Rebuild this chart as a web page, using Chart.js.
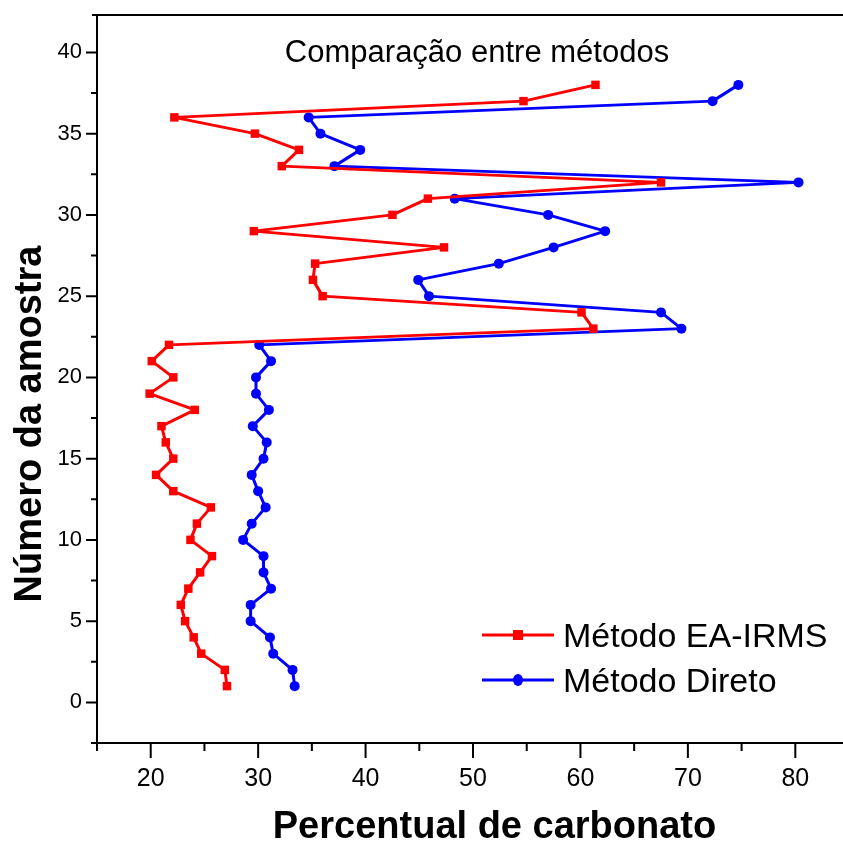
<!DOCTYPE html>
<html>
<head>
<meta charset="utf-8">
<script src="https://cdn.jsdelivr.net/npm/chart.js@4.4.1/dist/chart.umd.min.js"></script>
<style>
  html, body { margin: 0; padding: 0; background: #fff; overflow: hidden; }
  #wrap { width: 898px; height: 843px; }
</style>
</head>
<body>
<div id="wrap"><canvas id="chart" width="898" height="843"></canvas></div>
<script>
/* ── Data (sample number vs. carbonate %) ─────────────────────────── */
const samples = [1, 2, 3, 4, 5, 6, 7, 8, 9, 10, 11, 12, 13, 14, 15, 16, 17, 18, 19,
                 20, 21, 22, 23, 24, 25, 26, 27, 28, 29, 30, 31, 32, 33, 34, 35, 36, 37, 38];

const eaIrms = [27.1, 26.9, 24.7, 24.0, 23.2, 22.8, 23.5, 24.6, 25.7, 23.7,
                24.3, 25.6, 22.1, 20.5, 22.1, 21.4, 21.0, 24.1, 19.9, 22.1,
                20.1, 21.7, 61.2, 60.1, 36.0, 35.1, 35.3, 47.3, 29.6, 42.5,
                45.8, 67.5, 32.2, 33.8, 29.7, 22.2, 54.7, 61.4];

const direto = [33.4, 33.2, 31.4, 31.1, 29.3, 29.3, 31.2, 30.5, 30.5, 28.6,
                29.4, 30.7, 30.0, 29.4, 30.5, 30.8, 29.5, 31.0, 29.8, 29.8,
                31.2, 30.1, 69.4, 67.5, 45.9, 44.9, 52.4, 57.5, 62.3, 57.0,
                48.3, 80.3, 37.1, 39.5, 35.8, 34.7, 72.3, 74.7];

const xMajor = [20, 30, 40, 50, 60, 70, 80];
const xMinor = [15, 25, 35, 45, 55, 65, 75, 85];
const yMajor = [0, 5, 10, 15, 20, 25, 30, 35, 40];
const yMinor = [-2.5, 2.5, 7.5, 12.5, 17.5, 22.5, 27.5, 32.5, 37.5];

const plotTitle = 'Comparação entre métodos';
const xTitle    = 'Percentual de carbonato';
const yTitle    = 'Número da amostra';

const FONT = '"Liberation Sans", Arial, sans-serif';
Chart.defaults.font.family = FONT;
Chart.defaults.color = '#000';

/* ── Frame, minor/major ticks, titles and legend ─────────────────── */
const decor = {
  id: 'decor',
  afterDraw(chart) {
    const { ctx, chartArea: a, scales: { x, y } } = chart;
    ctx.save();
    ctx.strokeStyle = '#000';
    ctx.lineWidth = 2;

    // top frame line
    ctx.beginPath();
    ctx.moveTo(a.left - 5, a.top);
    ctx.lineTo(a.right, a.top);
    ctx.stroke();

    // tick marks
    ctx.beginPath();
    const xt = (v, len) => { const p = x.getPixelForValue(v); ctx.moveTo(p, a.bottom); ctx.lineTo(p, a.bottom + len); };
    const yt = (v, len) => { const p = y.getPixelForValue(v); ctx.moveTo(a.left, p); ctx.lineTo(a.left - len, p); };
    xMajor.forEach(v => xt(v, 15));
    xMinor.forEach(v => xt(v, 8));
    yMajor.forEach(v => yt(v, 11));
    yMinor.forEach(v => yt(v, 6));
    ctx.stroke();

    ctx.fillStyle = '#000';

    // plot title
    ctx.font = '31px ' + FONT;
    ctx.textAlign = 'center';
    ctx.textBaseline = 'alphabetic';
    ctx.fillText(plotTitle, 477, 62);

    // y axis title
    ctx.save();
    ctx.translate(31, 424);
    ctx.rotate(-Math.PI / 2);
    ctx.font = 'bold 38px ' + FONT;
    ctx.textBaseline = 'middle';
    ctx.fillText(yTitle, 0, 0);
    ctx.restore();

    // legend
    ctx.textAlign = 'left';
    ctx.font = '34px ' + FONT;
    const rows = [635, 680];
    chart.data.datasets.forEach((ds, i) => {
      const ly = rows[i];
      ctx.strokeStyle = ds.borderColor;
      ctx.lineWidth = 3;
      ctx.beginPath();
      ctx.moveTo(482, ly);
      ctx.lineTo(554, ly);
      ctx.stroke();
      ctx.fillStyle = ds.backgroundColor;
      if (ds.pointStyle === 'rect') {
        ctx.fillRect(513, ly - 5, 10, 10);
      } else {
        ctx.beginPath();
        ctx.ellipse(518, ly, 5, 6, 0, 0, Math.PI * 2);
        ctx.fill();
      }
      ctx.fillStyle = '#000';
      ctx.fillText(ds.label, 563, ly + 12);
    });
    ctx.restore();
  }
};

const pts = vals => samples.map((s, i) => ({ x: vals[i], y: s }));

new Chart(document.getElementById('chart'), {
  type: 'scatter',
  data: {
    datasets: [
      {
        label: 'Método EA-IRMS',
        data: pts(eaIrms),
        showLine: true,
        borderColor: '#ff0000',
        backgroundColor: '#ff0000',
        borderWidth: 3,
        borderJoinStyle: 'round',
        pointStyle: 'rect',
        pointRadius: 6,
        pointBorderWidth: 0,
      },
      {
        label: 'Método Direto',
        data: pts(direto),
        showLine: true,
        borderColor: '#0000ff',
        backgroundColor: '#0000ff',
        borderWidth: 3,
        borderJoinStyle: 'round',
        pointStyle: 'circle',
        pointRadius: 5,
        pointBorderWidth: 0,
      },
    ],
  },
  options: {
    responsive: false,
    animation: false,
    layout: { padding: { top: 15, right: 0, bottom: 0, left: 0 } },
    plugins: { legend: { display: false }, tooltip: { enabled: false } },
    scales: {
      x: {
        type: 'linear',
        min: 15,
        max: 89,
        afterBuildTicks: s => { s.ticks = xMajor.map(v => ({ value: v })); },
        afterFit: s => { s.height = 100; s.paddingLeft = 0; s.paddingRight = 0; },
        grid: { drawOnChartArea: false, drawTicks: false },
        border: { color: '#000', width: 2 },
        ticks: { padding: 21, color: '#000', font: { size: 25 } },
        title: {
          display: true,
          text: xTitle,
          color: '#000',
          font: { size: 38, weight: 'bold', lineHeight: 0.8 },
          padding: { top: 0, bottom: 0 },
        },
      },
      y: {
        type: 'linear',
        min: -2.5,
        max: 42.3,
        afterBuildTicks: s => { s.ticks = yMajor.map(v => ({ value: v })); },
        afterFit: s => { s.width = 97; s.paddingTop = 0; s.paddingBottom = 0; },
        grid: { drawOnChartArea: false, drawTicks: false },
        border: { color: '#000', width: 2 },
        ticks: { padding: 15, color: '#000', font: { size: 22 } },
      },
    },
  },
  plugins: [decor],
});
</script>
</body>
</html>
